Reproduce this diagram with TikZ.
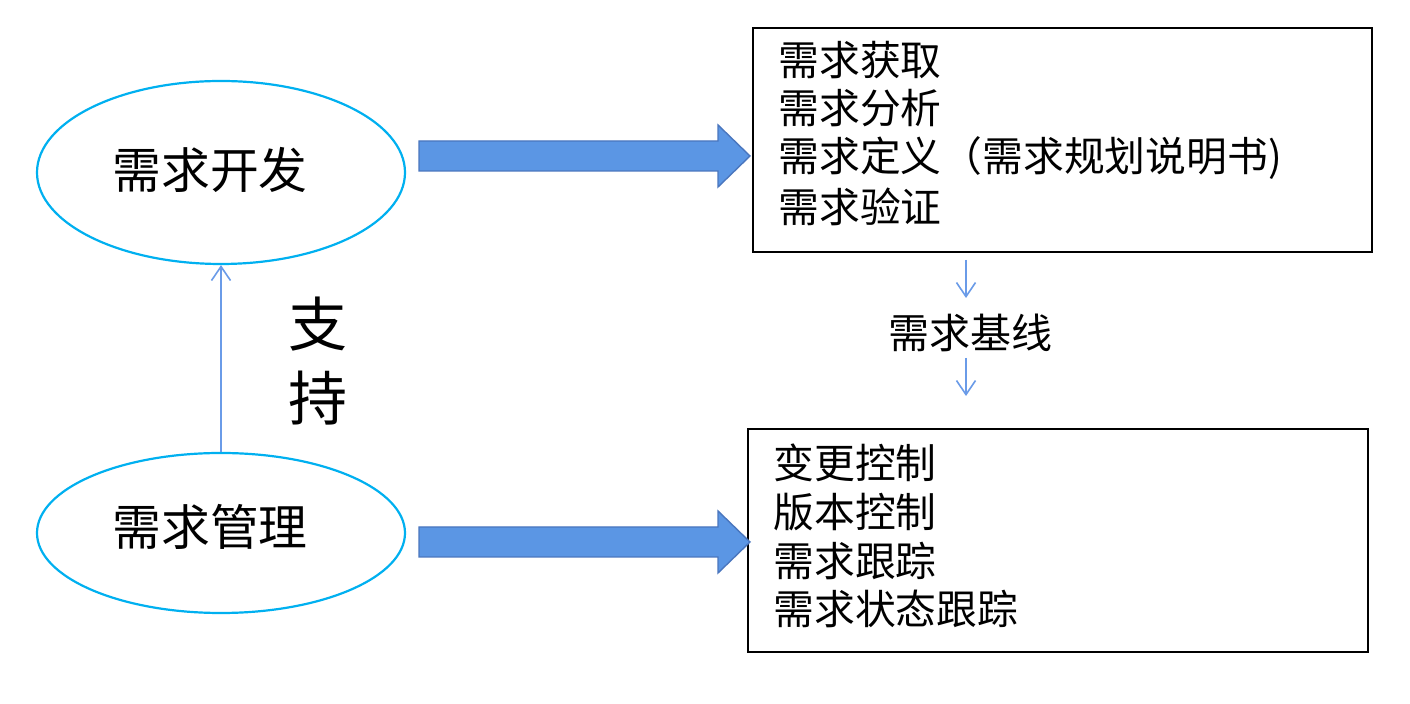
\documentclass[tikz,border=0pt]{standalone}
\usepackage{fontspec}
\newfontfamily\cjk{Noto Sans CJK SC}
\usetikzlibrary{shapes.geometric,arrows.meta,calc}
\definecolor{ellcol}{HTML}{00B0F0}
\definecolor{blkfill}{HTML}{5B96E4}
\definecolor{blkdraw}{HTML}{4A76BE}
\definecolor{thinblue}{HTML}{6A9BE8}
\begin{document}
\begin{tikzpicture}[x=0.5pt,y=-0.5pt,
  ell/.style={ellipse, draw=ellcol, line width=1.1pt, minimum width=184pt, inner sep=0pt},
  elltext/.style={font=\cjk\fontsize{24.4}{28}\selectfont, inner sep=0pt},
  box/.style={rectangle, draw=black, line width=1.1pt, inner sep=0pt},
  item/.style={font=\cjk\fontsize{20.4}{24}\selectfont, inner sep=0pt, anchor=west},
  thinarr/.style={draw=thinblue, line width=0.8pt, -{Straight Barb[length=7pt,width=9.5pt,line width=0.8pt]}},
  blk/.style={fill=blkfill, draw=blkdraw, line width=0.7pt, line join=miter}]
\useasboundingbox[fill=white] (0,0) rectangle (1410,704);

% ellipses
\node[ell, minimum height=91.5pt] (dev) at (221,172.5) {};
\node[elltext] (devt) at (210,170) {需求开发};
\node[ell, minimum height=80pt] (mgmt) at (221,533) {};
\node[elltext] (mgmtt) at (210,527) {需求管理};

% support arrow and label
\draw[thinarr] (mgmt.north) -- (dev.south);
\node[font=\cjk\fontsize{29.5}{34}\selectfont, inner sep=0pt] (zhi) at (318,324) {支};
\node[font=\cjk\fontsize{29.5}{34}\selectfont, inner sep=0pt] (chi) at (318,398) {持};

% boxes
\node[box, minimum width=309.5pt, minimum height=112pt] (box1) at (1062.5,140) {};
\node[box, minimum width=310pt, minimum height=111.5pt] (box2) at (1058,540.5) {};

% box 1 items
\node[item] (b1a) at (778,60) {需求获取};
\node[item] (b1b) at (778,108.5) {需求分析};
\node[item] (b1c) at (778,158) {需求定义（需求规划说明书)};
\node[item] (b1d) at (778,207) {需求验证};

% box 2 items
\node[item] (b2a) at (773,463) {变更控制};
\node[item] (b2b) at (773,512) {版本控制};
\node[item] (b2c) at (773,561) {需求跟踪};
\node[item] (b2d) at (773,609) {需求状态跟踪};

% block arrows
\coordinate (a1s) at (419,156);
\coordinate (a1t) at (750,156);
\draw[blk] (a1s) ++(0,-15) -- ++(299,0) -- ++(0,-16) -- (a1t) -- ++(-32,31) -- ++(0,-16) -- ++(-299,0) -- cycle;
\coordinate (a2s) at (419,542);
\coordinate (a2t) at (750,542);
\draw[blk] (a2s) ++(0,-15) -- ++(299,0) -- ++(0,-16) -- (a2t) -- ++(-32,31) -- ++(0,-16) -- ++(-299,0) -- cycle;

% baseline label and thin arrows
\node[font=\cjk\fontsize{20.5}{24}\selectfont, inner sep=0pt] (base) at (970,333) {需求基线};
\coordinate (s1) at (966,260);
\coordinate (t1) at (966,298);
\coordinate (s2) at (966,358);
\coordinate (t2) at (966,396);
\draw[thinarr] (s1) -- (t1);
\draw[thinarr] (s2) -- (t2);
\end{tikzpicture}
\end{document}
